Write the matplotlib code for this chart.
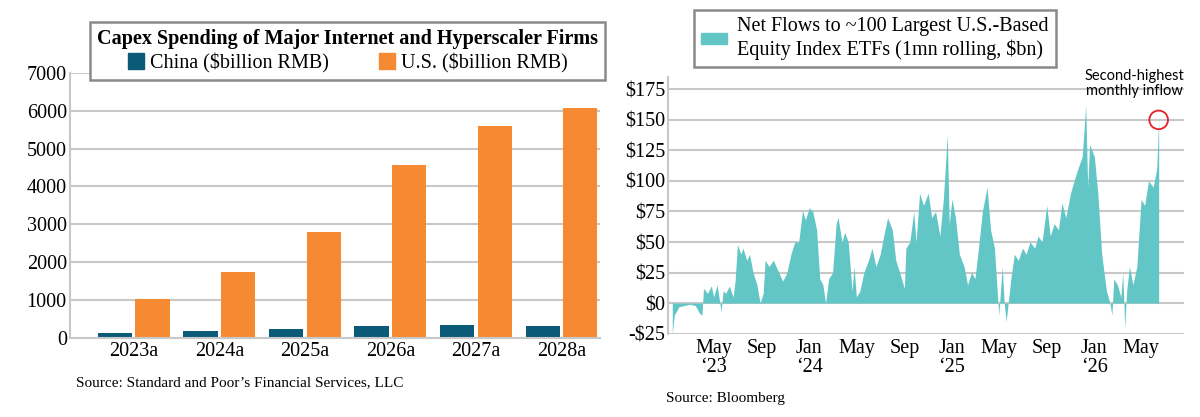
import numpy as np
import pandas as pd
import matplotlib
matplotlib.use("Agg")
import matplotlib.pyplot as plt
from matplotlib.patches import Patch

# ---------- dati ----------
years = ['2023a', '2024a', '2025a', '2026a', '2027a', '2028a']
china = [120, 180, 240, 310, 350, 300]
us = [1030, 1750, 2800, 4570, 5590, 6080]

flow_dates = [
    '2023-01-15', '2023-01-20', '2023-02-01', '2023-02-15', '2023-03-01', '2023-03-15', '2023-03-25',
    '2023-04-01', '2023-04-05', '2023-04-15', '2023-04-25', '2023-05-01', '2023-05-10', '2023-05-20',
    '2023-05-25', '2023-06-01', '2023-06-10', '2023-06-20', '2023-06-25', '2023-07-01', '2023-07-10',
    '2023-07-15', '2023-07-25', '2023-08-01', '2023-08-10', '2023-08-20', '2023-08-28', '2023-09-05',
    '2023-09-10', '2023-09-20', '2023-10-01', '2023-10-15', '2023-10-25', '2023-11-05', '2023-11-15',
    '2023-11-25', '2023-12-05', '2023-12-15', '2023-12-22', '2024-01-01', '2024-01-10', '2024-01-20',
    '2024-01-28', '2024-02-05', '2024-02-12', '2024-02-20', '2024-03-01', '2024-03-10', '2024-03-15',
    '2024-03-25', '2024-04-01', '2024-04-10', '2024-04-20', '2024-04-25', '2024-05-01', '2024-05-10',
    '2024-05-20', '2024-06-01', '2024-06-10', '2024-06-20', '2024-07-01', '2024-07-10', '2024-07-20',
    '2024-08-01', '2024-08-10', '2024-08-20', '2024-09-01', '2024-09-05', '2024-09-15', '2024-09-25',
    '2024-10-01', '2024-10-10', '2024-10-20', '2024-11-01', '2024-11-10', '2024-11-20', '2024-12-01',
    '2024-12-10', '2024-12-20', '2024-12-25', '2025-01-01', '2025-01-10', '2025-01-20', '2025-02-01',
    '2025-02-10', '2025-02-20', '2025-03-01', '2025-03-10', '2025-03-20', '2025-04-01', '2025-04-10',
    '2025-04-20', '2025-05-01', '2025-05-10', '2025-05-15', '2025-05-20', '2025-06-01', '2025-06-10',
    '2025-06-20', '2025-07-01', '2025-07-10', '2025-07-20', '2025-08-01', '2025-08-10', '2025-08-20',
    '2025-09-01', '2025-09-10', '2025-09-20', '2025-10-01', '2025-10-10', '2025-10-20', '2025-11-01',
    '2025-11-10', '2025-11-20', '2025-12-01', '2025-12-10', '2025-12-15', '2025-12-20', '2026-01-01',
    '2026-01-10', '2026-01-20', '2026-02-01', '2026-02-10', '2026-02-15', '2026-02-20', '2026-03-01',
    '2026-03-10', '2026-03-15', '2026-03-20', '2026-03-25', '2026-04-01', '2026-04-10', '2026-04-20',
    '2026-05-01', '2026-05-10', '2026-05-20', '2026-06-01', '2026-06-10', '2026-06-15',
]
flow_values = [
    -25, -10, -3, -2, -1, -2, -8,
    -10, 12, 8, 14, 5, 15, -7,
    10, 8, 14, 5, 18, 48, 40,
    45, 35, 40, 25, 15, 0, 8,
    35, 30, 35, 25, 18, 25, 40,
    50, 50, 76, 68, 78, 75, 60,
    20, 15, 0, 20, 25, 65, 70,
    50, 58, 50, 10, 30, 5, 10,
    25, 35, 45, 30, 40, 55, 70,
    60, 35, 25, 12, 45, 50, 75,
    50, 90, 80, 90, 70, 75, 55,
    85, 138, 65, 85, 70, 40, 30,
    15, 25, 20, 45, 75, 95, 60,
    45, -10, 30, 0, -15, 20, 40,
    35, 45, 40, 50, 45, 55, 50,
    80, 55, 65, 60, 82, 70, 90,
    100, 110, 120, 162, 95, 130, 120,
    90, 40, 10, 0, -10, 20, 15,
    5, 25, -20, 10, 30, 15, 30,
    85, 80, 100, 95, 110, 150,
]
tick_months = ['2023-05-01', '2023-09-01', '2024-01-01', '2024-05-01', '2024-09-01',
               '2025-01-01', '2025-05-01', '2025-09-01', '2026-01-01', '2026-05-01']
tick_labels = ['May\n\u201823', 'Sep', 'Jan\n\u201824', 'May', 'Sep',
               'Jan\n\u201825', 'May', 'Sep', 'Jan\n\u201826', 'May']

plt.rcParams['font.family'] = ['Liberation Serif', 'DejaVu Serif']
col_china = '#0b5b78'
col_us = '#f68a33'
col_teal = '#63c6c6'
grid_col = '#c8c8c8'

fig = plt.figure(figsize=(12, 4.17), dpi=100)

# ---------- grafico sinistro ----------
ax1 = fig.add_axes([0.058, 0.19, 0.442, 0.635])
x = np.arange(len(years))
w = 0.4
ax1.bar(x - 0.22, china, w, color=col_china)
ax1.bar(x + 0.22, us, w, color=col_us)
ax1.set_ylim(0, 7000)
ax1.set_xlim(-0.75, 5.45)
ax1.set_yticks(range(0, 7001, 1000))
ax1.set_xticks(x)
ax1.set_xticklabels(years, fontsize=14.5)
ax1.tick_params(axis='y', labelsize=14.5, length=0, pad=2)
ax1.tick_params(axis='x', length=0, pad=3)
ax1.yaxis.grid(True, color=grid_col, lw=1.5)
ax1.set_axisbelow(True)
for s in ['top', 'right']:
    ax1.spines[s].set_visible(False)
ax1.spines['left'].set_color(grid_col)
ax1.spines['bottom'].set_color(grid_col)
ax1.spines['left'].set_linewidth(1.5)
ax1.spines['bottom'].set_linewidth(1.5)
leg1 = ax1.legend([Patch(color=col_china), Patch(color=col_us)],
                  ['China ($billion RMB)', 'U.S. ($billion RMB)'],
                  ncol=2, loc='lower left', bbox_to_anchor=(0.02, 0.935), fontsize=14.5,
                  title='Capex Spending of Major Internet and Hyperscaler Firms',
                  title_fontproperties={'weight': 'bold', 'size': 14.5},
                  fancybox=False, edgecolor='#8a8a8a', framealpha=1,
                  handlelength=0.8, handleheight=0.9, handletextpad=0.3, columnspacing=2.5,
                  borderpad=0.35, labelspacing=0.2)
leg1.get_frame().set_linewidth(1.8)
fig.text(0.063, 0.075, 'Source: Standard and Poor\u2019s Financial Services, LLC', fontsize=11)

# ---------- grafico destro ----------
ax2 = fig.add_axes([0.557, 0.2, 0.43, 0.615])
dates = pd.to_datetime(flow_dates)
vals = np.array(flow_values)
ax2.fill_between(dates, 0, vals, color=col_teal, lw=0)
ax2.set_ylim(-25, 185)
ax2.set_xlim(pd.Timestamp('2023-01-05'), pd.Timestamp('2026-08-20'))
ax2.set_yticks(range(-25, 176, 25))
ax2.set_yticklabels(['-$25', '$0', '$25', '$50', '$75', '$100', '$125', '$150', '$175'])
ax2.set_xticks(pd.to_datetime(tick_months))
ax2.set_xticklabels(tick_labels, fontsize=14.5, linespacing=1.0)
ax2.tick_params(axis='y', labelsize=14.5, length=0, pad=2)
ax2.tick_params(axis='x', length=0, pad=4)
ax2.yaxis.grid(True, color=grid_col, lw=1.5)
ax2.set_axisbelow(True)
for s in ['top', 'right', 'bottom']:
    ax2.spines[s].set_visible(False)
ax2.spines['left'].set_color(grid_col)
ax2.spines['left'].set_linewidth(1.5)
ax2.scatter([dates[-1]], [vals[-1]], s=180, facecolors='none', edgecolors='#e8202a', lw=1.3, zorder=5)
ax2.text(pd.Timestamp('2026-04-15'), 168, 'Second-highest\nmonthly inflow',
         family=['Lato', 'DejaVu Sans'], fontsize=10.5, ha='center', va='bottom', linespacing=1.1)
leg2 = ax2.legend([Patch(color=col_teal)],
                  ['Net Flows to ~100 Largest U.S.-Based\nEquity Index ETFs (1mn rolling, $bn)'],
                  loc='lower left', bbox_to_anchor=(0.03, 1.0), fontsize=14.5,
                  fancybox=False, edgecolor='#8a8a8a', framealpha=1,
                  handlelength=1.3, handleheight=0.5, handletextpad=0.5, borderpad=0.35)
leg2.get_frame().set_linewidth(1.8)
fig.text(0.555, 0.035, 'Source: Bloomberg', fontsize=11)

fig.savefig('out.png', dpi=100)
